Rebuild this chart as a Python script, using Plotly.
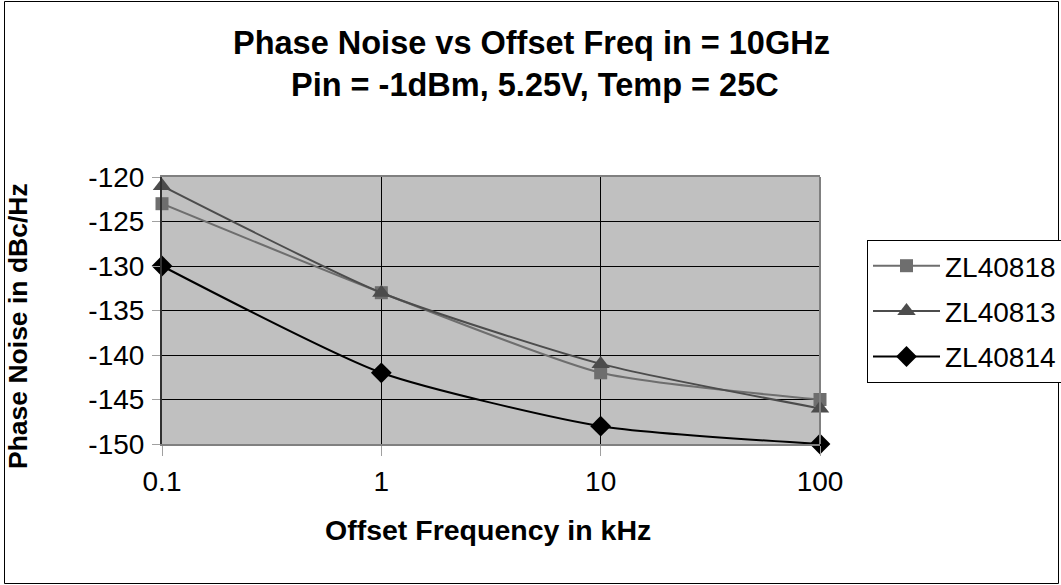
import plotly.graph_objects as go

freq_khz = [0.1, 1, 10, 100]
zl40818 = [-123, -133, -142, -145]
zl40813 = [-121, -133, -141, -146]
zl40814 = [-130, -142, -148, -150]
series_names = ["ZL40818", "ZL40813", "ZL40814"]
y_ticks = [-120, -125, -130, -135, -140, -145, -150]
y_tick_labels = ["-120", "-125", "-130", "-135", "-140", "-145", "-150"]
x_ticks = [0.1, 1, 10, 100]
x_tick_labels = ["0.1", "1", "10", "100"]

FONT = "Liberation Sans, Arial, sans-serif"
W, H = 1061, 585
L, R, T, B = 162, 820, 177, 444
pw, ph = R - L, B - T

def px(xp):
    return (xp - L) / pw

def py(yp):
    return (B - yp) / ph

fig = go.Figure()
styles = [
    (zl40818, "#6e6e6e", "square", 13),
    (zl40813, "#4c4c4c", "triangle-up", 16),
    (zl40814, "#000000", "diamond", 16),
]
for i, (name, (vals, col, sym, ms)) in enumerate(zip(series_names, styles)):
    fig.add_trace(go.Scatter(
        x=freq_khz, y=vals, name=name, mode="lines+markers",
        legendgroup="g%d" % i,
        line=dict(color=col, width=2, shape="spline", smoothing=0.6),
        marker=dict(symbol=sym, size=ms, color=col),
        cliponaxis=False,
    ))

fig.update_layout(
    width=W, height=H,
    margin=dict(l=L, r=W - R, t=T, b=H - B, autoexpand=False),
    paper_bgcolor="white", plot_bgcolor="#C0C0C0",
    font=dict(family=FONT, color="black", size=28),
    showlegend=True,
    legend=dict(
        xref="container", yref="container",
        x=867 / W, y=1 - 240 / H, xanchor="left", yanchor="top",
        bordercolor="black", borderwidth=1, bgcolor="white",
        font=dict(size=28, family=FONT),
        tracegroupgap=6, itemwidth=67, traceorder="grouped",
    ),
    xaxis=dict(
        type="log", range=[-1, 2], tickvals=x_ticks, ticktext=x_tick_labels,
        showgrid=True, gridcolor="black", gridwidth=1,
        showline=True, linecolor="#808080", linewidth=2, mirror=True,
        ticks="outside", ticklen=10, tickcolor="#a0a0a0",
        tickfont=dict(size=28), ticklabelstandoff=1,
        zeroline=False, automargin=False,
    ),
    yaxis=dict(
        range=[-150, -120], tickvals=y_ticks, ticktext=y_tick_labels,
        showgrid=True, gridcolor="black", gridwidth=1,
        showline=True, linecolor="#303030", linewidth=2,
        ticks="outside", ticklen=8, tickcolor="#a0a0a0",
        tickfont=dict(size=28), ticklabelstandoff=2,
        zeroline=False, automargin=False,
    ),
    shapes=[
        dict(type="line", xref="paper", yref="paper", x0=1, x1=1, y0=0, y1=1,
             line=dict(color="#808080", width=2)),
        dict(type="rect", xref="paper", yref="paper",
             x0=px(4.5), x1=px(1058.5), y0=py(1.5), y1=py(583.5),
             line=dict(color="black", width=1), layer="below"),
    ],
    annotations=[
        dict(text="<b>Phase Noise vs Offset Freq in = 10GHz</b>", xref="paper", yref="paper",
             x=px(531), y=py(43), xanchor="center", yanchor="middle",
             showarrow=False, font=dict(size=32.5)),
        dict(text="<b>Pin = -1dBm, 5.25V, Temp = 25C</b>", xref="paper", yref="paper",
             x=px(535), y=py(85), xanchor="center", yanchor="middle",
             showarrow=False, font=dict(size=32.5)),
        dict(text="<b>Offset Frequency in kHz</b>", xref="paper", yref="paper",
             x=px(488), y=py(530), xanchor="center", yanchor="middle",
             showarrow=False, font=dict(size=28.5)),
        dict(text="<b>Phase Noise in dBc/Hz</b>", xref="paper", yref="paper",
             x=px(18), y=py(326), xanchor="center", yanchor="middle",
             showarrow=False, textangle=-90, font=dict(size=26.5)),
    ],
)

fig.write_html(
    "out.html",
    config={"displayModeBar": False},
    post_script="document.body.style.margin='0';document.body.style.overflow='hidden';",
)
